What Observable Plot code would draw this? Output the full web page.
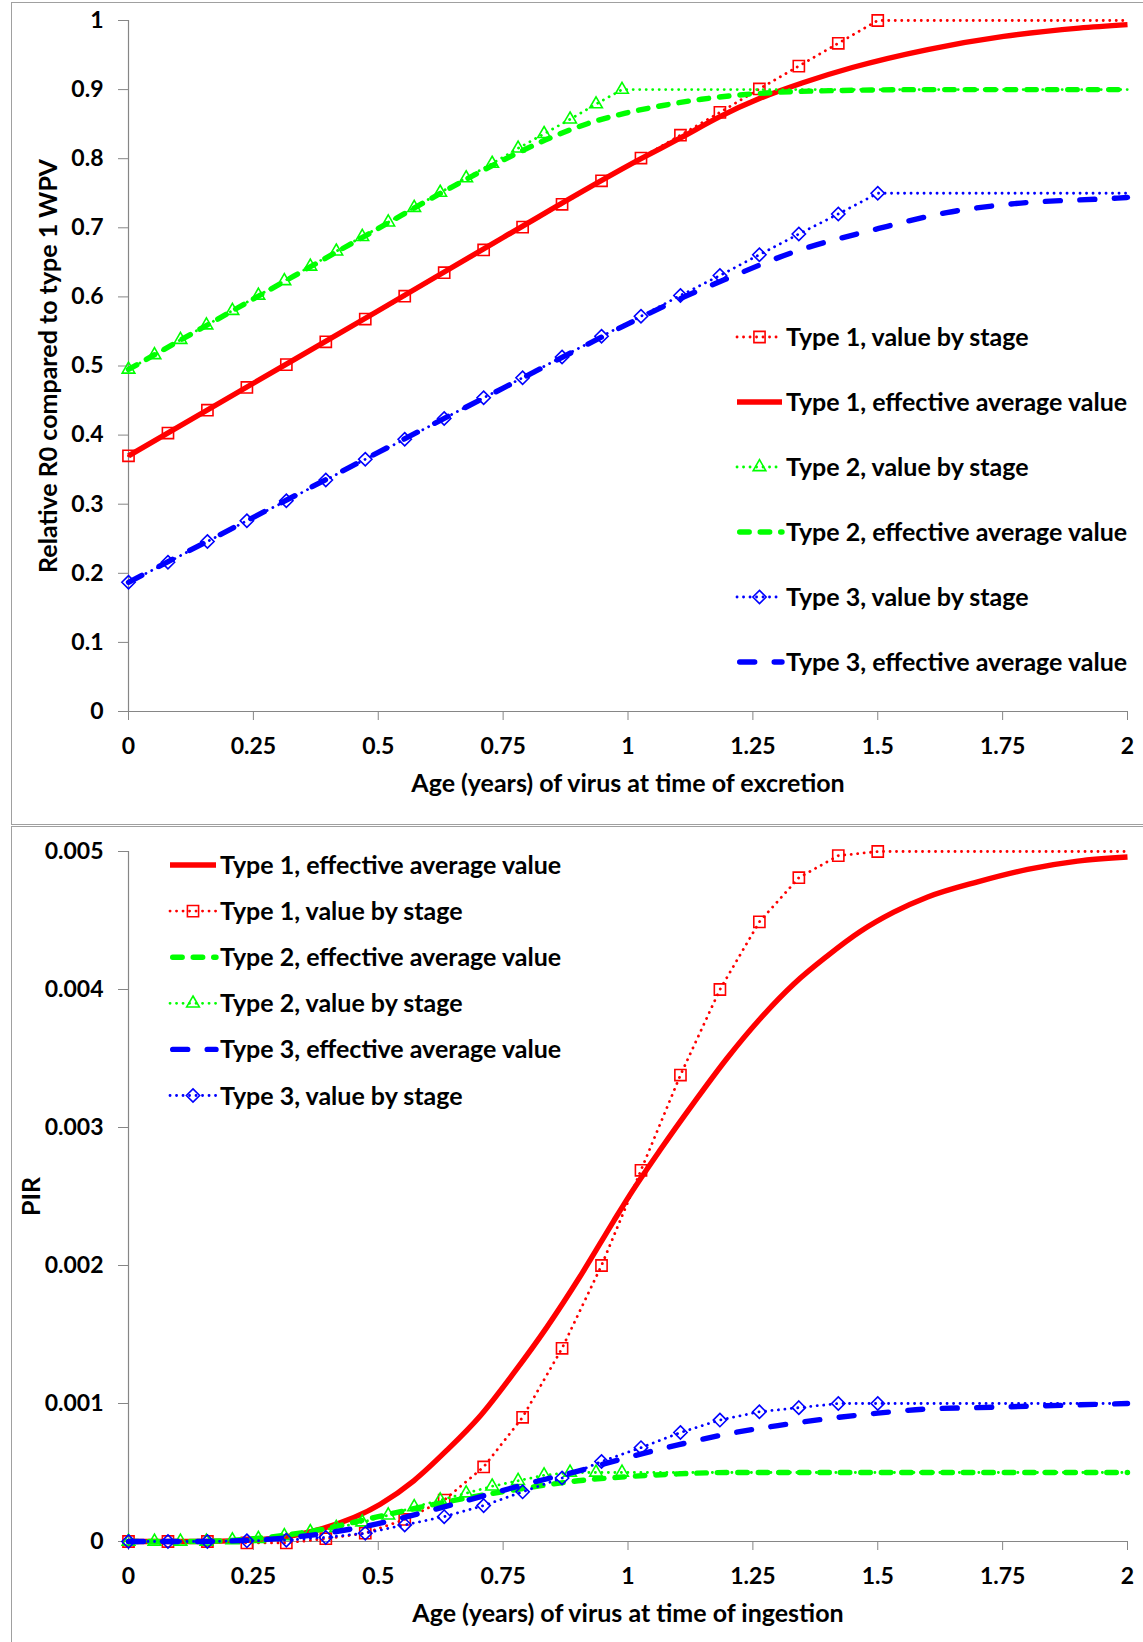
<!DOCTYPE html>
<html>
<head>
<meta charset="utf-8">
<script src="https://cdn.jsdelivr.net/npm/d3@7"></script>
<script src="https://cdn.jsdelivr.net/npm/@observablehq/plot@0.6"></script>
<style>
  html, body { margin: 0; padding: 0; background: #fff; }
  #page { position: relative; width: 1143px; height: 1642px; overflow: hidden; font-family: Lato, "Open Sans", sans-serif; }
  .box { position: absolute; box-sizing: border-box; border: 1px solid #a0a0a0; border-right: none; }
  .holder { position: absolute; left: 0; }
  .legend { position: absolute; left: 0; top: 0; pointer-events: none; }
</style>
</head>
<body>
<div id="page">
  <div class="box" style="left:11px; top:2px; width:1140px; height:823px;"></div>
  <div class="box" style="left:11px; top:826px; width:1140px; height:830px;"></div>
  <div id="topChart" class="holder" style="top:0px;"></div>
  <div id="bottomChart" class="holder" style="top:826px;"></div>
</div>
<script>
// ---------- tick values and labels ----------
const xTicks = [0, 0.25, 0.5, 0.75, 1, 1.25, 1.5, 1.75, 2];
const xTickLabels = ["0", "0.25", "0.5", "0.75", "1", "1.25", "1.5", "1.75", "2"];
const yTicksTop = [0, 0.1, 0.2, 0.3, 0.4, 0.5, 0.6, 0.7, 0.8, 0.9, 1];
const yTickLabelsTop = ["0", "0.1", "0.2", "0.3", "0.4", "0.5", "0.6", "0.7", "0.8", "0.9", "1"];
const yTicksBottom = [0, 0.001, 0.002, 0.003, 0.004, 0.005];
const yTickLabelsBottom = ["0", "0.001", "0.002", "0.003", "0.004", "0.005"];

const xLabelTop = "Age (years) of virus at time of excretion";
const yLabelTop = "Relative R0 compared to type 1 WPV";
const xLabelBottom = "Age (years) of virus at time of ingestion";
const yLabelBottom = "PIR";

const seriesNames = {
  t1Stage: "Type 1, value by stage",
  t1Eff: "Type 1, effective average value",
  t2Stage: "Type 2, value by stage",
  t2Eff: "Type 2, effective average value",
  t3Stage: "Type 3, value by stage",
  t3Eff: "Type 3, effective average value"
};
const legendOrderTop = ["t1Stage", "t1Eff", "t2Stage", "t2Eff", "t3Stage", "t3Eff"];
const legendOrderBottom = ["t1Eff", "t1Stage", "t2Eff", "t2Stage", "t3Eff", "t3Stage"];

// ---------- stage ages (years) ----------
const stageAgeT13 = [0, 0.079, 0.158, 0.237, 0.316, 0.395, 0.474, 0.553, 0.632, 0.711, 0.789, 0.868, 0.947, 1.026, 1.105, 1.184, 1.263, 1.342, 1.421, 1.5, 2.0];
const stageAgeT2 = [0, 0.052, 0.104, 0.156, 0.208, 0.26, 0.312, 0.364, 0.416, 0.468, 0.52, 0.572, 0.624, 0.676, 0.728, 0.78, 0.832, 0.884, 0.936, 0.988, 2.0];

// ---------- top panel: relative R0 ----------
const r0T1Stage = [0.37, 0.403, 0.436, 0.469, 0.502, 0.535, 0.568, 0.601, 0.635, 0.668, 0.701, 0.734, 0.768, 0.801, 0.834, 0.867, 0.901, 0.934, 0.967, 1.0, 1.0];
const r0T2Stage = [0.495, 0.516, 0.538, 0.559, 0.58, 0.602, 0.623, 0.644, 0.666, 0.687, 0.708, 0.729, 0.751, 0.772, 0.793, 0.815, 0.836, 0.857, 0.879, 0.9, 0.9];
const r0T3Stage = [0.187, 0.216, 0.246, 0.276, 0.305, 0.335, 0.365, 0.394, 0.424, 0.454, 0.483, 0.513, 0.543, 0.572, 0.602, 0.631, 0.661, 0.691, 0.72, 0.75, 0.75];

const r0T1EffAge = [0, 0.25, 0.5, 0.75, 1.026, 1.105, 1.184, 1.263, 1.35, 1.449, 1.6, 1.752, 1.903, 2.0];
const r0T1Eff    = [0.37, 0.475, 0.58, 0.686, 0.8, 0.83, 0.861, 0.887, 0.910, 0.932, 0.958, 0.977, 0.989, 0.994];
const r0T2EffAge = [0, 0.25, 0.5, 0.65, 0.75, 0.844, 0.92, 0.995, 1.07, 1.147, 1.22, 1.298, 1.45, 1.6, 2.0];
const r0T2Eff    = [0.495, 0.597, 0.699, 0.760, 0.798, 0.830, 0.851, 0.866, 0.877, 0.886, 0.892, 0.896, 0.899, 0.9, 0.9];
const r0T3EffAge = [0, 0.25, 0.5, 0.75, 1.0, 1.1, 1.2, 1.328, 1.502, 1.638, 1.774, 1.98, 2.0];
const r0T3Eff    = [0.187, 0.281, 0.375, 0.468, 0.561, 0.596, 0.627, 0.664, 0.699, 0.722, 0.735, 0.743, 0.744];

// ---------- bottom panel: PIR ----------
const pirT1Stage = [0, 0, 0, -0.00001, -0.00001, 0.00002, 0.00006, 0.00016, 0.0003, 0.00054, 0.0009, 0.0014, 0.002, 0.00269, 0.00338, 0.004, 0.00449, 0.00481, 0.00497, 0.005, 0.005];
const pirT2Stage = [0, 0, 0, 0, 0.00001, 0.00002, 0.00004, 0.00007, 0.0001, 0.00014, 0.00019, 0.00025, 0.0003, 0.00035, 0.0004, 0.00044, 0.00048, 0.0005, 0.0005, 0.0005, 0.0005];
const pirT3Stage = [0, 0, 0, 0.000005, 0.00001, 0.00003, 0.00006, 0.00012, 0.00018, 0.00026, 0.00036, 0.00046, 0.00058, 0.00068, 0.00079, 0.00088, 0.00094, 0.00097, 0.001, 0.001, 0.001];

const pirT1EffAge = [0, 0.125, 0.25, 0.375, 0.504, 0.571, 0.637, 0.704, 0.771, 0.837, 0.904, 0.971, 1.0, 1.065, 1.132, 1.198, 1.265, 1.332, 1.398, 1.465, 1.532, 1.6, 1.7, 1.8, 1.9, 2.0];
const pirT1Eff    = [0, 0, 0.00001, 0.00008, 0.00027, 0.00044, 0.00066, 0.00091, 0.00122, 0.00155, 0.00192, 0.00232, 0.00249, 0.00284, 0.00318, 0.0035, 0.00379, 0.00404, 0.00424, 0.00442, 0.00456, 0.00467, 0.00478, 0.00487, 0.00493, 0.00496];
const pirT2EffAge = [0, 0.125, 0.25, 0.375, 0.5, 0.6, 0.7, 0.8, 0.9, 1.0, 1.1, 1.2, 1.4, 2.0];
const pirT2Eff    = [0, 0, 0.00002, 0.00008, 0.00018, 0.00026, 0.00033, 0.00039, 0.00044, 0.00047, 0.00049, 0.0005, 0.0005, 0.0005];
const pirT3EffAge = [0, 0.125, 0.25, 0.375, 0.5, 0.6, 0.7, 0.8, 0.9, 1.0, 1.1, 1.2, 1.3, 1.4, 1.5, 1.6, 1.7, 1.8, 1.9, 2.0];
const pirT3Eff    = [0, 0, 0.00001, 0.00005, 0.00013, 0.00022, 0.00032, 0.00042, 0.00051, 0.00061, 0.0007, 0.00078, 0.00084, 0.00089, 0.00093, 0.00096, 0.00097, 0.00098, 0.00099, 0.001];

// ---------- styles ----------
const diamondSymbol = {
  draw(ctx, size) {
    const h = Math.sqrt(size / 2);
    ctx.moveTo(0, -h); ctx.lineTo(h, 0); ctx.lineTo(0, h); ctx.lineTo(-h, 0); ctx.closePath();
  }
};
const styles = {
  t1Stage: { kind: "stage", stroke: "#ff0000", symbol: d3.symbolSquare, r: 6.3 },
  t2Stage: { kind: "stage", stroke: "#00ff00", symbol: d3.symbolTriangle, r: 4.7 },
  t3Stage: { kind: "stage", stroke: "#0000ff", symbol: diamondSymbol, r: 5.3 },
  t1Eff: { kind: "eff", stroke: "#ff0000", dash: null },
  t2Eff: { kind: "eff", stroke: "#00ff00", dash: "9.5 11" },
  t3Eff: { kind: "eff", stroke: "#0000ff", dash: "15 19.5" }
};
const DOT_DASH = "0.1 6.4";
const STAGE_W = 2.8;
const EFF_W = 5.4;
const MARK_W = 1.6;

function rows(xs, ys) { return xs.map((x, i) => ({ x, y: ys[i] })); }

function seriesMarks(key, xs, ys) {
  const st = styles[key];
  const data = rows(xs, ys);
  if (st.kind === "stage") {
    return [
      Plot.line(data, { x: "x", y: "y", stroke: st.stroke, strokeWidth: STAGE_W, strokeDasharray: DOT_DASH, strokeLinecap: "round" }),
      Plot.dot(data.slice(0, data.length - 1), { x: "x", y: "y", symbol: st.symbol, r: st.r, stroke: st.stroke, strokeWidth: MARK_W, fill: "none" })
    ];
  }
  return [
    Plot.line(data, { x: "x", y: "y", stroke: st.stroke, strokeWidth: EFF_W, strokeDasharray: st.dash || undefined, strokeLinecap: st.dash ? "round" : "butt", curve: "monotone-x" })
  ];
}

const AXIS_GRAY = "#868686";
const FONT = "Lato, 'Open Sans', sans-serif";
const LABEL_SIZE = 25;

function basePlot({ height, marginTop, marginBottom, yDomain, yTicks, yLabels, xLabel, yLabel, yLabelDx, marks }) {
  return Plot.plot({
    width: 1143,
    height,
    marginLeft: 128,
    marginRight: 16,
    marginTop,
    marginBottom,
    x: { domain: [0, 2] },
    y: { domain: yDomain },
    style: { fontFamily: FONT, fontSize: "23px", fontWeight: "bold", color: "black", background: "transparent", overflow: "visible" },
    marks: [
      Plot.ruleY([yDomain[0]], { stroke: AXIS_GRAY, strokeWidth: 1.2 }),
      Plot.ruleX([0], { stroke: AXIS_GRAY, strokeWidth: 1.2 }),
      Plot.axisX({ ticks: xTicks, tickFormat: d => xTickLabels[xTicks.indexOf(d)], tickSize: 9, tickPadding: 17, stroke: AXIS_GRAY, color: "black", label: null }),
      Plot.axisY({ ticks: yTicks, tickFormat: d => yLabels[yTicks.indexOf(d)], tickSize: 10, tickPadding: 15, stroke: AXIS_GRAY, color: "black", label: null }),
      Plot.text([xLabel], { text: d => d, frameAnchor: "bottom", lineAnchor: "middle", textAnchor: "middle", dy: 72, fontSize: LABEL_SIZE, fontWeight: "bold", fill: "black" }),
      Plot.text([yLabel], { text: d => d, frameAnchor: "left", lineAnchor: "middle", textAnchor: "middle", dx: yLabelDx, rotate: -90, fontSize: LABEL_SIZE, fontWeight: "bold", fill: "black" }),
      ...marks
    ]
  });
}

function drawLegend(holder, order, { x0, x1, xText, y0, dy }) {
  const svg = d3.create("svg").attr("class", "legend").attr("width", 1143).attr("height", 830)
    .style("overflow", "visible");
  order.forEach((key, i) => {
    const st = styles[key];
    const y = y0 + i * dy;
    const line = svg.append("line").attr("x1", x0).attr("x2", x1).attr("y1", y).attr("y2", y)
      .attr("stroke", st.stroke);
    if (st.kind === "stage") {
      line.attr("stroke-width", STAGE_W).attr("stroke-dasharray", DOT_DASH).attr("stroke-linecap", "round");
      svg.append("path").attr("d", d3.symbol(st.symbol, st.r * st.r * Math.PI)())
        .attr("transform", `translate(${(x0 + x1) / 2},${y})`)
        .attr("fill", "none").attr("stroke", st.stroke).attr("stroke-width", MARK_W);
    } else {
      line.attr("stroke-width", EFF_W).attr("stroke-linecap", st.dash ? "round" : "butt");
      if (st.dash) line.attr("stroke-dasharray", st.dash).attr("stroke-dashoffset", -2.7);
    }
    svg.append("text").attr("x", xText).attr("y", y).attr("dy", "0.36em")
      .attr("font-family", FONT).attr("font-weight", "bold").attr("font-size", LABEL_SIZE)
      .attr("fill", "black").text(seriesNames[key]);
  });
  holder.appendChild(svg.node());
}

// ---------- top chart ----------
const topMarks = [
  ...seriesMarks("t1Stage", stageAgeT13, r0T1Stage),
  ...seriesMarks("t1Eff", r0T1EffAge, r0T1Eff),
  ...seriesMarks("t2Stage", stageAgeT2, r0T2Stage),
  ...seriesMarks("t2Eff", r0T2EffAge, r0T2Eff),
  ...seriesMarks("t3Stage", stageAgeT13, r0T3Stage),
  ...seriesMarks("t3Eff", r0T3EffAge, r0T3Eff)
];
const topPlot = basePlot({
  height: 822, marginTop: 20, marginBottom: 111,
  yDomain: [0, 1], yTicks: yTicksTop, yLabels: yTickLabelsTop,
  xLabel: xLabelTop, yLabel: yLabelTop, yLabelDx: -80, marks: topMarks
});
const topHolder = document.getElementById("topChart");
topHolder.appendChild(topPlot);
drawLegend(topHolder, legendOrderTop, { x0: 737, x1: 782, xText: 786, y0: 337, dy: 65 });

// ---------- bottom chart ----------
const bottomMarks = [
  ...seriesMarks("t1Eff", pirT1EffAge, pirT1Eff),
  ...seriesMarks("t1Stage", stageAgeT13, pirT1Stage),
  ...seriesMarks("t2Eff", pirT2EffAge, pirT2Eff),
  ...seriesMarks("t2Stage", stageAgeT2, pirT2Stage),
  ...seriesMarks("t3Eff", pirT3EffAge, pirT3Eff),
  ...seriesMarks("t3Stage", stageAgeT13, pirT3Stage)
];
const bottomPlot = basePlot({
  height: 816, marginTop: 25, marginBottom: 101,
  yDomain: [0, 0.005], yTicks: yTicksBottom, yLabels: yTickLabelsBottom,
  xLabel: xLabelBottom, yLabel: yLabelBottom, yLabelDx: -97, marks: bottomMarks
});
const bottomHolder = document.getElementById("bottomChart");
bottomHolder.appendChild(bottomPlot);
drawLegend(bottomHolder, legendOrderBottom, { x0: 170, x1: 216, xText: 220, y0: 39, dy: 46.1 });
</script>
</body>
</html>
